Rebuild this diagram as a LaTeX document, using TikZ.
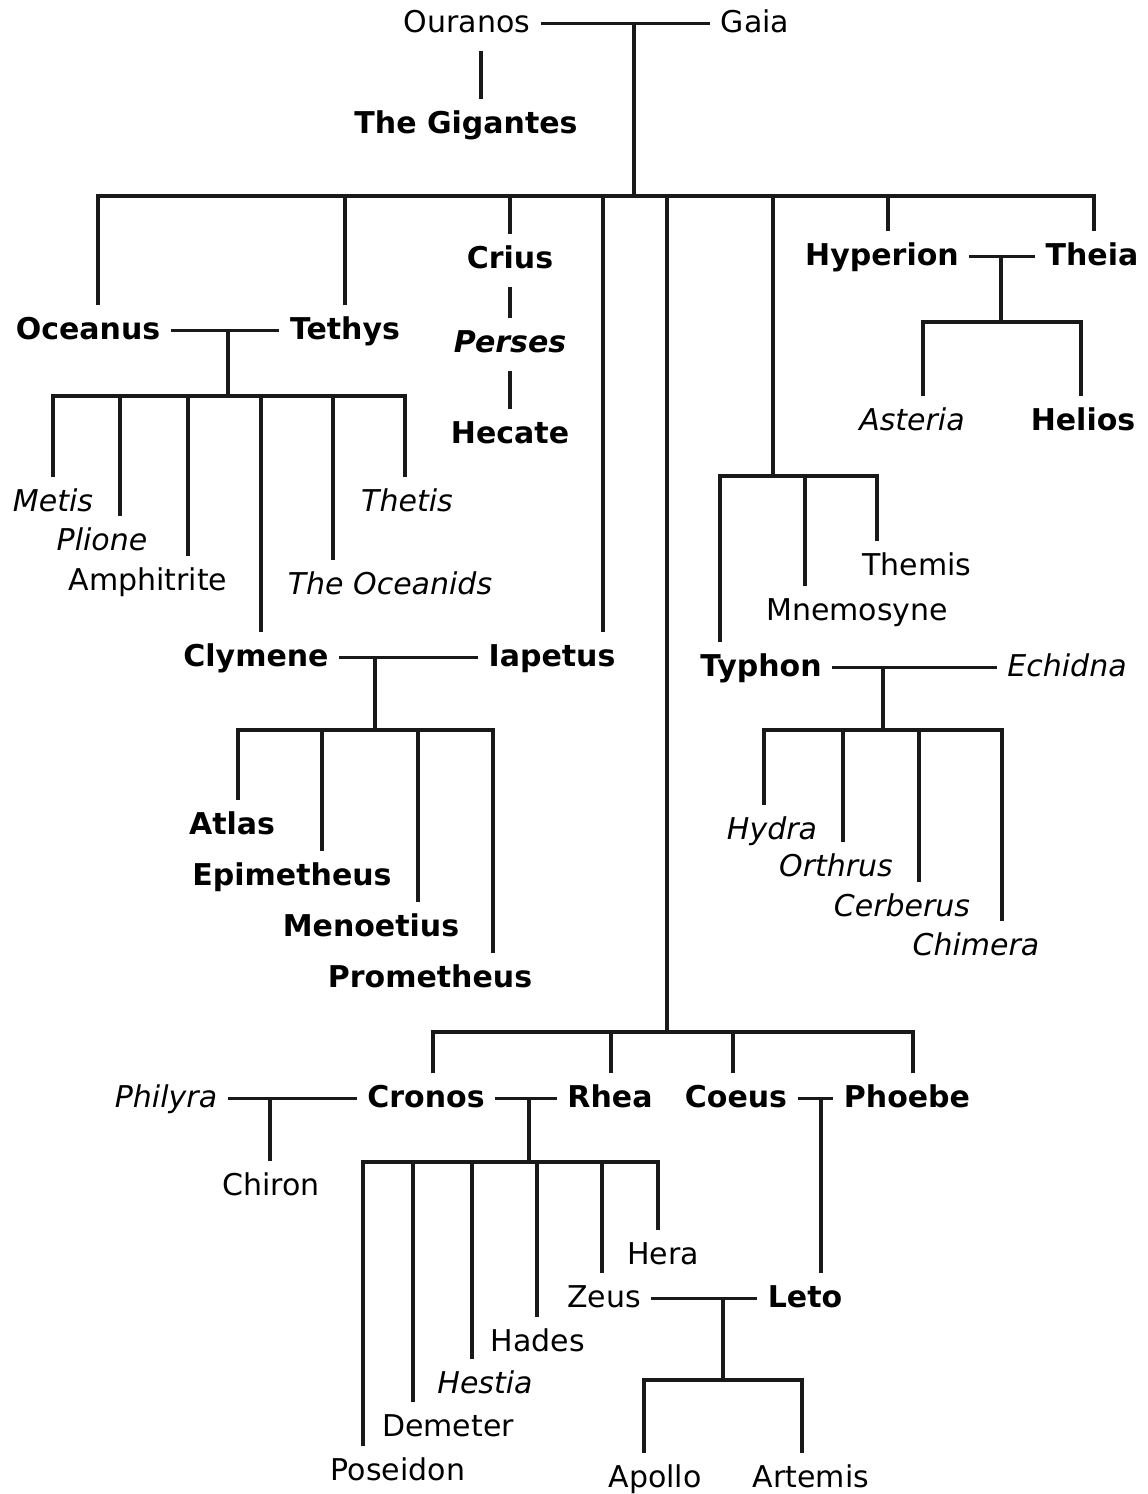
\documentclass[tikz,border=0pt]{standalone}
\usepackage{fontspec}
\setmainfont{DejaVu Sans}
\begin{document}
\begin{tikzpicture}[x=1pt, y=-1pt,
    execute at begin picture={\fontsize{30}{36}\selectfont},
    god/.style={font=\fontsize{30}{36}\selectfont, text=black, anchor=base,
      inner xsep=12pt, inner ysep=13pt, text height=22pt, text depth=7pt},
    bgod/.style={god, font=\fontsize{30}{36}\selectfont\bfseries},
    igod/.style={god, font=\fontsize{30}{36}\selectfont\itshape},
    bigod/.style={god, font=\fontsize{30}{36}\selectfont\bfseries\itshape},
    line/.style={line width=3.3pt, line cap=rect, black!90}]
    \useasboundingbox (0,0) rectangle (1148,1494);

    % First generation
    \node[god] (ouranos) at (467,32) {Ouranos};
    \node[god] (gaia) at (755,32) {Gaia};
    \node[bgod] (gigantes) at (466,133) {The Gigantes};

    % Titans
    \node[bgod] (oceanus) at (88,339) {Oceanus};
    \node[bgod] (tethys) at (345,339) {Tethys};
    \node[bgod] (crius) at (510,268) {Crius};
    \node[bigod] (perses) at (510,352) {Perses};
    \node[bgod] (hecate) at (510,443) {Hecate};
    \node[bgod] (hyperion) at (882,265) {Hyperion};
    \node[bgod] (theia) at (1092,265) {Theia};
    \node[bgod] (clymene) at (256,666) {Clymene};
    \node[bgod] (iapetus) at (552,666) {Iapetus};
    \node[bgod] (typhon) at (761,676) {Typhon};
    \node[god] (mnemosyne) at (857,620) {Mnemosyne};
    \node[god] (themis) at (917,575) {Themis};
    \node[igod] (echidna) at (1067,676) {Echidna};

    % Oceanus and Tethys
    \node[igod] (metis) at (53,511) {Metis};
    \node[igod] (plione) at (102,550) {Plione};
    \node[god] (amphitrite) at (148,590) {Amphitrite};
    \node[igod] (oceanids) at (390,594) {The Oceanids};
    \node[igod] (thetis) at (407,511) {Thetis};

    % Clymene and Iapetus
    \node[bgod] (atlas) at (232,834) {Atlas};
    \node[bgod] (epimetheus) at (292,885) {Epimetheus};
    \node[bgod] (menoetius) at (371,936) {Menoetius};
    \node[bgod] (prometheus) at (430,987) {Prometheus};

    % Hyperion and Theia
    \node[igod] (asteria) at (912,430) {Asteria};
    \node[bgod] (helios) at (1083,430) {Helios};

    % Typhon and Echidna
    \node[igod] (hydra) at (772,839) {Hydra};
    \node[igod] (orthrus) at (836,876) {Orthrus};
    \node[igod] (cerberus) at (902,916) {Cerberus};
    \node[igod] (chimera) at (976,955) {Chimera};

    % Cronos generation
    \node[igod] (philyra) at (166,1107) {Philyra};
    \node[bgod] (cronos) at (426,1107) {Cronos};
    \node[bgod] (rhea) at (610,1107) {Rhea};
    \node[bgod] (coeus) at (736,1107) {Coeus};
    \node[bgod] (phoebe) at (907,1107) {Phoebe};
    \node[god] (chiron) at (271,1195) {Chiron};
    \node[bgod] (leto) at (805,1307) {Leto};

    % Olympians
    \node[god] (poseidon) at (398,1480) {Poseidon};
    \node[god] (demeter) at (448,1436) {Demeter};
    \node[igod] (hestia) at (485,1393) {Hestia};
    \node[god] (hades) at (538,1351) {Hades};
    \node[god] (zeus) at (604,1307) {Zeus};
    \node[god] (hera) at (663,1264) {Hera};
    \node[god] (apollo) at (655,1487) {Apollo};
    \node[god] (artemis) at (811,1487) {Artemis};

    % Junctions and bars
    \coordinate (og) at (ouranos.mid -| 634,0);
    \coordinate (ot) at (oceanus.mid -| 228,0);
    \coordinate (ci) at (clymene.mid -| 375,0);
    \coordinate (ht) at (hyperion.mid -| 1001,0);
    \coordinate (te) at (typhon.mid -| 883,0);
    \coordinate (pc) at (philyra.mid -| 270,0);
    \coordinate (cr) at (cronos.mid -| 529,0);
    \coordinate (cp) at (coeus.mid -| 821,0);
    \coordinate (zl) at (zeus.mid -| 723,0);
    \coordinate (titans) at (98,196);
    \coordinate (ocbar) at (53,396);
    \coordinate (ipbar) at (238,730);
    \coordinate (hybar) at (923,322);
    \coordinate (thbar) at (720,476);
    \coordinate (tybar) at (764,730);
    \coordinate (crbar) at (433,1032);
    \coordinate (olbar) at (363,1162);
    \coordinate (apbar) at (644,1380);

    % Couples
    \draw[line] (ouranos.mid east) -- (gaia.mid west);
    \draw[line] (oceanus.mid east) -- (tethys.mid west);
    \draw[line] (clymene.mid east) -- (iapetus.mid west);
    \draw[line] (hyperion.mid east) -- (theia.mid west);
    \draw[line] (typhon.mid east) -- (echidna.mid west);
    \draw[line] (philyra.mid east) -- (cronos.mid west);
    \draw[line] (cronos.mid east) -- (rhea.mid west);
    \draw[line] (coeus.mid east) -- (phoebe.mid west);
    \draw[line] (zeus.mid east) -- (leto.mid west);

    % Single lines of descent
    \draw[line] (ouranos.south -| 481,0) -- (gigantes.north -| 481,0);
    \draw[line] (crius.south) -- (perses.north);
    \draw[line] (perses.south) -- (hecate.north);
    \draw[line] (pc) -- (chiron.north -| pc);
    \draw[line] (cp) -- (leto.north -| cp);

    % Ouranos and Gaia
    \draw[line] (og) -- (og |- titans);
    \draw[line] (titans) -- (titans -| 1094,0);
    \foreach \x/\n in {98/oceanus, 345/tethys, 510/crius, 603/iapetus, 888/hyperion, 1094/theia}
    \draw[line] (titans -| \x,0) -- (\n.north -| \x,0);
    \draw[line] (titans -| 667,0) -- (crbar -| 667,0);
    \draw[line] (titans -| 773,0) -- (thbar -| 773,0);
    \draw[line] (thbar) -- (thbar -| 877,0);
    \foreach \x/\n in {720/typhon, 805/mnemosyne, 877/themis}
    \draw[line] (thbar -| \x,0) -- (\n.north -| \x,0);
    \draw[line] (crbar) -- (crbar -| 913,0);
    \foreach \x/\n in {433/cronos, 611/rhea, 733/coeus, 913/phoebe}
    \draw[line] (crbar -| \x,0) -- (\n.north -| \x,0);

    % Oceanus and Tethys
    \draw[line] (ot) -- (ot |- ocbar);
    \draw[line] (ocbar) -- (ocbar -| 405,0);
    \foreach \x/\n in {53/metis, 120/plione, 188/amphitrite, 261/clymene, 333/oceanids, 405/thetis}
    \draw[line] (ocbar -| \x,0) -- (\n.north -| \x,0);

    % Clymene and Iapetus
    \draw[line] (ci) -- (ci |- ipbar);
    \draw[line] (ipbar) -- (ipbar -| 493,0);
    \foreach \x/\n in {238/atlas, 322/epimetheus, 418/menoetius, 493/prometheus}
    \draw[line] (ipbar -| \x,0) -- (\n.north -| \x,0);

    % Hyperion and Theia
    \draw[line] (ht) -- (ht |- hybar);
    \draw[line] (hybar) -- (hybar -| 1081,0);
    \foreach \x/\n in {923/asteria, 1081/helios}
    \draw[line] (hybar -| \x,0) -- (\n.north -| \x,0);

    % Typhon and Echidna
    \draw[line] (te) -- (te |- tybar);
    \draw[line] (tybar) -- (tybar -| 1002,0);
    \foreach \x/\n in {764/hydra, 843/orthrus, 919/cerberus, 1002/chimera}
    \draw[line] (tybar -| \x,0) -- (\n.north -| \x,0);

    % Cronos and Rhea
    \draw[line] (cr) -- (cr |- olbar);
    \draw[line] (olbar) -- (olbar -| 658,0);
    \foreach \x/\n in {363/poseidon, 413/demeter, 472/hestia, 537/hades, 602/zeus, 658/hera}
    \draw[line] (olbar -| \x,0) -- (\n.north -| \x,0);

    % Zeus and Leto
    \draw[line] (zl) -- (zl |- apbar);
    \draw[line] (apbar) -- (apbar -| 802,0);
    \foreach \x/\n in {644/apollo, 802/artemis}
    \draw[line] (apbar -| \x,0) -- (\n.north -| \x,0);
\end{tikzpicture}
\end{document}
